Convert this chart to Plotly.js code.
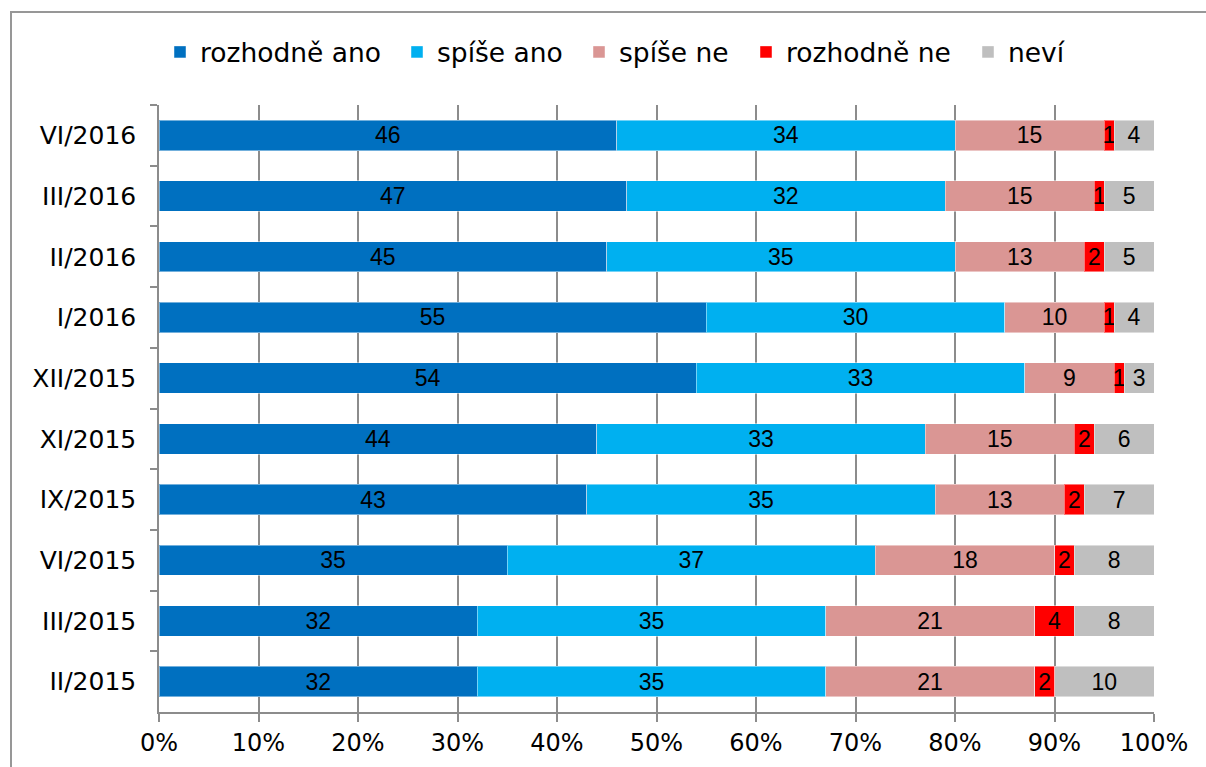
<!DOCTYPE html>
<html>
<head>
<meta charset="utf-8">
<script src="https://cdn.plot.ly/plotly-3.0.1.min.js"></script>
<style>
  html, body { margin: 0; padding: 0; background: #fff; }
  #wrap { position: relative; width: 1206px; height: 767px; overflow: hidden; }
  #chart { position: absolute; left: 0; top: 0; width: 1206px; height: 767px; }
  #frame { position: absolute; left: 10px; top: 11px; width: 1300px; height: 900px;
           border: 2px solid #979797; pointer-events: none; }
</style>
</head>
<body>
<div id="wrap">
  <div id="chart"></div>
  <div id="frame"></div>
</div>
<script>
// Categories listed top to bottom as in the chart
var categories = ["VI/2016", "III/2016", "II/2016", "I/2016", "XII/2015",
                  "XI/2015", "IX/2015", "VI/2015", "III/2015", "II/2015"];

var rozhodneAno = [46, 47, 45, 55, 54, 44, 43, 35, 32, 32];
var spiseAno    = [34, 32, 35, 30, 33, 33, 35, 37, 35, 35];
var spiseNe     = [15, 15, 13, 10,  9, 15, 13, 18, 21, 21];
var rozhodneNe  = [ 1,  1,  2,  1,  1,  2,  2,  2,  4,  2];
var nevi        = [ 4,  5,  5,  4,  3,  6,  7,  8,  8, 10];

var seriesNames  = ["rozhodně ano", "spíše ano", "spíše ne", "rozhodně ne", "neví"];
var seriesValues = [rozhodneAno, spiseAno, spiseNe, rozhodneNe, nevi];
var seriesColors = ["#0070C0", "#00B0F0", "#DA9694", "#FF0000", "#BFBFBF"];
// legend entry widths (px) to reproduce the original legend spacing
var legendWidths = [192, 137, 122, 177, null];

var labelFont = { family: "'Liberation Sans Narrow', 'Liberation Sans', Arial, sans-serif", size: 23, color: "#000" };

var traces = seriesNames.map(function (name, i) {
  var t = {
    type: "bar",
    orientation: "h",
    name: name,
    y: categories,
    x: seriesValues[i].map(function (v) { return v / 100; }),
    text: seriesValues[i].map(String),
    textposition: "inside",
    insidetextanchor: "middle",
    textangle: 0,
    constraintext: "none",
    cliponaxis: false,
    insidetextfont: labelFont,
    textfont: labelFont,
    hoverinfo: "name+x",
    marker: { color: seriesColors[i], line: { color: "rgba(255,255,255,0.45)", width: 1 } }
  };
  if (legendWidths[i]) t.legendwidth = legendWidths[i];
  return t;
});

var layout = {
  width: 1206,
  height: 767,
  barmode: "stack",
  bargap: 0.5,
  paper_bgcolor: "rgba(0,0,0,0)",
  plot_bgcolor: "rgba(0,0,0,0)",
  margin: { l: 159, r: 52, t: 105, b: 55, pad: 0 },
  font: { family: "'DejaVu Sans', Verdana, sans-serif", color: "#000" },
  showlegend: true,
  legend: {
    orientation: "h",
    xref: "container", yref: "container",
    x: 160 / 1206, xanchor: "left",
    y: 0.932, yanchor: "middle",
    borderwidth: 0,
    font: { family: "'DejaVu Sans', Verdana, sans-serif", size: 26.5, color: "#000" },
    itemclick: false, itemdoubleclick: false,
    traceorder: "normal"
  },
  xaxis: {
    range: [0, 1],
    tickvals: [0, 0.1, 0.2, 0.3, 0.4, 0.5, 0.6, 0.7, 0.8, 0.9, 1],
    tickformat: ".0%",
    showgrid: true,
    gridcolor: "#8c8c8c",
    gridwidth: 1.5,
    zeroline: false,
    showline: true,
    linecolor: "#8c8c8c",
    linewidth: 1.5,
    ticks: "outside",
    ticklen: 8,
    tickwidth: 1.5,
    tickcolor: "#8c8c8c",
    tickfont: { size: 24, family: "'DejaVu Sans', Verdana, sans-serif", color: "#000" },
    fixedrange: true
  },
  yaxis: {
    type: "category",
    autorange: "reversed",
    showgrid: false,
    zeroline: false,
    showline: true,
    linecolor: "#8c8c8c",
    linewidth: 1.5,
    ticks: "outside",
    tickson: "boundaries",
    ticklen: 7,
    tickwidth: 1.5,
    tickcolor: "#8c8c8c",
    ticklabelstandoff: 16,
    tickfont: { size: 25, family: "'DejaVu Sans', Verdana, sans-serif", color: "#000" },
    fixedrange: true
  }
};

Plotly.newPlot("chart", traces, layout, { displayModeBar: false });
</script>
</body>
</html>
